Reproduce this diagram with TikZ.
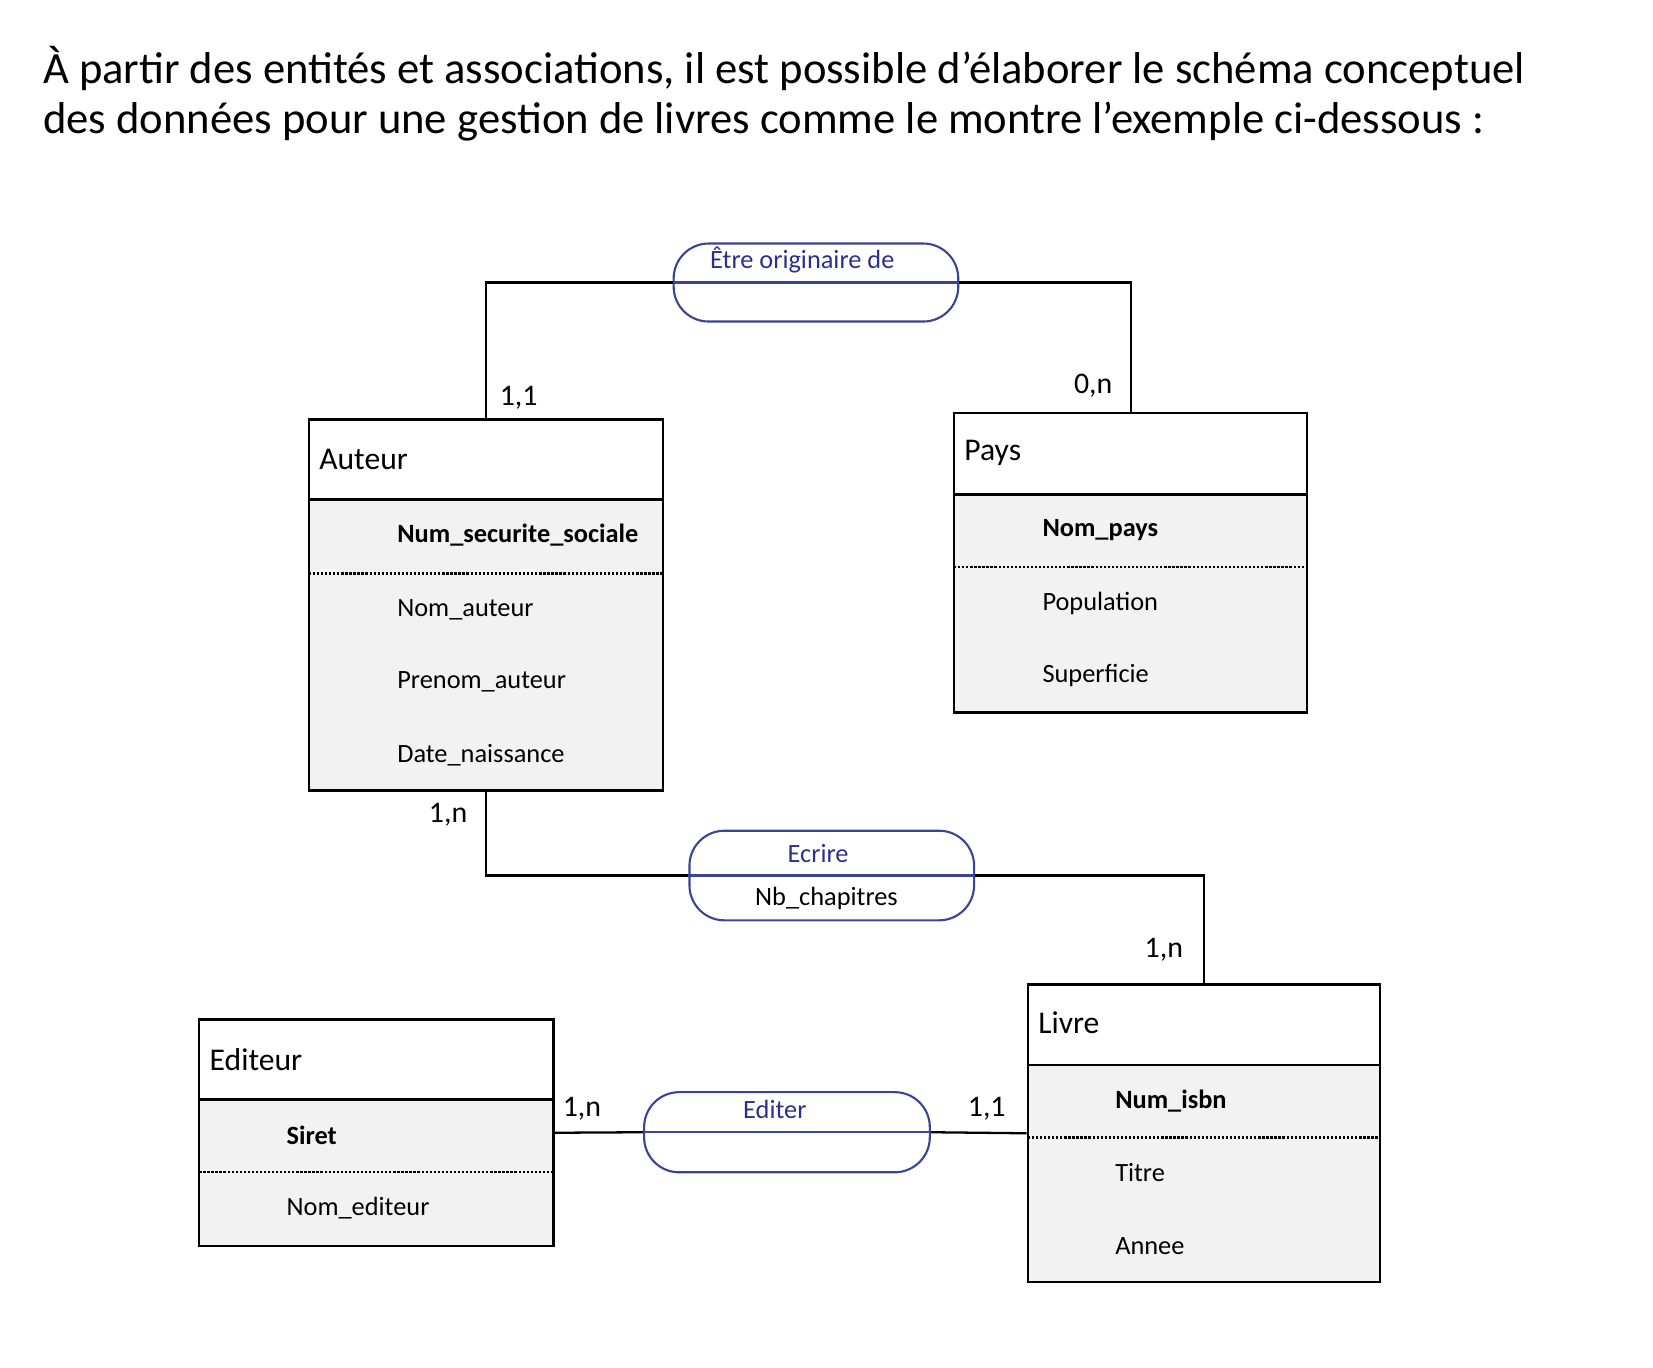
\documentclass[tikz,border=0pt]{standalone}
\usepackage{fontspec}
\setmainfont{Carlito}
\usetikzlibrary{fit}
\definecolor{assocblue}{RGB}{58,68,150}
\definecolor{assoctext}{RGB}{42,48,140}

\begin{document}
\begin{tikzpicture}[
    x=0.021084cm, y=-0.021084cm,
    entity/.style={draw, line width=1.4pt, inner sep=0pt},
    entityline/.style={line width=1.4pt},
    attrfill/.style={fill=black!5},
    keyline/.style={line width=1.3pt, densely dotted},
    assoc/.style={draw=assocblue, line width=1.2pt, rounded corners=0.7cm, inner sep=0pt},
    assocline/.style={draw=assocblue, line width=1.2pt},
    link/.style={line width=1.3pt},
    intro/.style={anchor=west, font=\fontsize{25.4}{30}\selectfont},
    entname/.style={anchor=west, font=\fontsize{18}{21}\selectfont},
    attr/.style={anchor=west, font=\fontsize{15}{18}\selectfont},
    keyattr/.style={attr, font=\fontsize{15}{18}\selectfont\bfseries},
    card/.style={font=\fontsize{17}{20}\selectfont},
    assoclabel/.style={text=assoctext, font=\fontsize{15}{18}\selectfont}]
    \useasboundingbox (0,0) rectangle (1568,1297);

    % Texte
    \node[intro] (intro1) at (35,65) {À partir des entités et associations, il est possible d’élaborer le schéma conceptuel};
    \node[intro] (intro2) at (35,115) {des données pour une gestion de livres comme le montre l’exemple ci-dessous :};

    % Auteur
    \fill[attrfill] (293,474) rectangle (629,750);
    \node[entity, fit={(293,398) (629,750)}] (auteur) {};
    \draw[entityline] (293,474) -- (629,474);
    \draw[keyline] (293,544) -- (629,544);
    \node[entname] (auteurname) at (297,436) {Auteur};
    \node[keyattr] (numsecu) at (371,508) {Num\_securite\_sociale};
    \node[attr] (nomauteur) at (371,578) {Nom\_auteur};
    \node[attr] (prenomauteur) at (371,647) {Prenom\_auteur};
    \node[attr] (datenaiss) at (371,716) {Date\_naissance};

    % Pays
    \fill[attrfill] (905,469) rectangle (1240,676);
    \node[entity, fit={(905,392) (1240,676)}] (pays) {};
    \draw[entityline] (905,469) -- (1240,469);
    \draw[keyline] (905,538) -- (1240,538);
    \node[entname] (paysname) at (909,430) {Pays};
    \node[keyattr] (nompays) at (983,503) {Nom\_pays};
    \node[attr] (population) at (983,572) {Population};
    \node[attr] (superficie) at (983,641) {Superficie};

    % Editeur
    \fill[attrfill] (189,1043) rectangle (525,1182);
    \node[entity, fit={(189,967) (525,1182)}] (editeur) {};
    \draw[entityline] (189,1043) -- (525,1043);
    \draw[keyline] (189,1112) -- (525,1112);
    \node[entname] (editeurname) at (193,1005) {Editeur};
    \node[keyattr] (siret) at (266,1077) {Siret};
    \node[attr] (nomediteur) at (266,1146) {Nom\_editeur};

    % Livre
    \fill[attrfill] (975,1010) rectangle (1309,1216);
    \node[entity, fit={(975,934) (1309,1216)}] (livre) {};
    \draw[entityline] (975,1010) -- (1309,1010);
    \draw[keyline] (975,1079) -- (1309,1079);
    \node[entname] (livrename) at (979,970) {Livre};
    \node[keyattr] (numisbn) at (1052,1044) {Num\_isbn};
    \node[attr] (titre) at (1052,1112) {Titre};
    \node[attr] (annee) at (1052,1182) {Annee};

    % Associations
    \node[assoc, fit={(639,231) (909,305)}] (origine) {};
    \draw[assocline] (origine.west) -- (origine.east);
    \node[assoclabel] (originelabel) at (761,247) {Être originaire de};

    \node[assoc, fit={(654,788) (924,873)}] (ecrire) {};
    \draw[assocline] (ecrire.west) -- (ecrire.east);
    \node[assoclabel] (ecrirelabel) at (776,810) {Ecrire};
    \node[attr, anchor=center] (nbchapitres) at (784,852) {Nb\_chapitres};

    \node[assoc, fit={(611,1036) (882,1112)}] (editer) {};
    \draw[assocline] (editer.west) -- (editer.east);
    \node[assoclabel] (editerlabel) at (735,1052) {Editer};

    % Liens
    \draw[link] (auteur.north) |- (origine.west);
    \draw[link] (origine.east) -| (pays.north);
    \draw[link] (auteur.south) |- (ecrire.west);
    \draw[link] (ecrire.east) -| (livre.north);
    \draw[link] (editeur.east) -- (editer.west);
    \draw[link] (editer.east) -- (livre.west);

    % Cardinalites
    \node[card] (cardauteurorig) at (492,377) {1,1};
    \node[card] (cardpaysorig) at (1037,366) {0,n};
    \node[card] (cardauteurecr) at (425,773) {1,n};
    \node[card] (cardlivreecr) at (1104,901) {1,n};
    \node[card] (cardediteuredit) at (552,1052) {1,n};
    \node[card] (cardlivreedit) at (936,1052) {1,1};
\end{tikzpicture}
\end{document}
